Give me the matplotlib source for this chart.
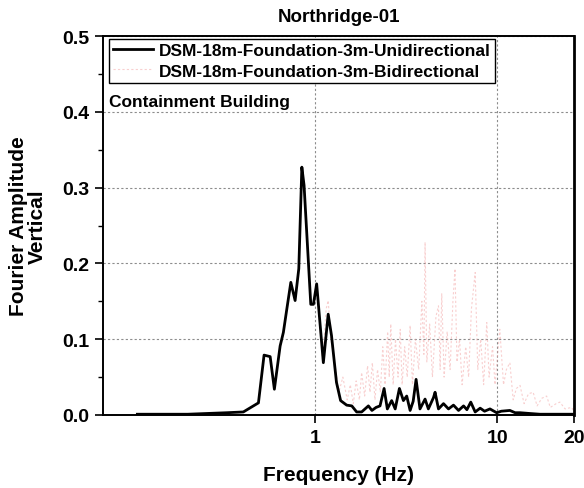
import numpy as np
import matplotlib
matplotlib.use('Agg')
import matplotlib.pyplot as plt
from matplotlib.ticker import FixedLocator, FixedFormatter, MultipleLocator

plt.rcParams['font.family'] = ['Liberation Sans', 'DejaVu Sans']
plt.rcParams['font.weight'] = 'bold'

# Unidirectional response (frequency in Hz, Fourier amplitude)
uni_freq = [0.106, 0.2, 0.328, 0.404, 0.489, 0.525, 0.567, 0.598, 0.643, 0.670, 0.70,
            0.736, 0.777, 0.814, 0.846, 0.870, 0.947, 0.979, 1.02, 1.11, 1.18,
            1.23, 1.31, 1.38, 1.49, 1.59, 1.69, 1.80, 1.96, 2.05, 2.16, 2.27, 2.39,
            2.49, 2.63, 2.75, 2.90, 3.05, 3.18, 3.32, 3.45, 3.58, 3.76, 4.01, 4.18,
            4.46, 4.55, 4.75, 5.06, 5.39, 5.74, 6.12, 6.52, 6.80, 7.14, 7.55, 8.04,
            8.5, 9.1, 9.9, 10.5, 11.7, 12.5, 13.3, 15.0, 17.1, 20.0, 26.3]
uni_amp = [0.001, 0.001, 0.003, 0.004, 0.016, 0.079, 0.077, 0.034, 0.091, 0.109, 0.140,
           0.175, 0.151, 0.193, 0.327, 0.303, 0.146, 0.146, 0.173, 0.069, 0.133,
           0.105, 0.043, 0.019, 0.013, 0.012, 0.004, 0.004, 0.012, 0.006, 0.010, 0.012, 0.035,
           0.008, 0.019, 0.008, 0.035, 0.019, 0.025, 0.006, 0.018, 0.047, 0.008, 0.021, 0.008,
           0.023, 0.030, 0.008, 0.015, 0.008, 0.013, 0.006, 0.012, 0.007, 0.017, 0.004, 0.009,
           0.005, 0.008, 0.003, 0.005, 0.006, 0.003, 0.003, 0.002, 0.001, 0.001, 0.001]

# Bidirectional response
bi_freq = [0.106, 0.2, 0.328, 0.404, 0.489, 0.525, 0.567, 0.598, 0.643, 0.670, 0.70,
           0.736, 0.777, 0.814, 0.846, 0.870, 0.947, 0.979, 1.02, 1.10, 1.15, 1.18,
           1.22, 1.28, 1.35, 1.42, 1.50, 1.56, 1.62, 1.68, 1.75, 1.80, 1.87, 1.94,
           2.0, 2.06, 2.13, 2.2, 2.28, 2.35, 2.42, 2.5, 2.55, 2.6, 2.68, 2.76, 2.85,
           2.93, 3.0, 3.1, 3.2, 3.32, 3.42, 3.55, 3.7, 3.85, 3.95, 4.01, 4.1, 4.25,
           4.4, 4.6, 4.75, 4.85, 4.95, 5.1, 5.3, 5.5, 5.7, 5.85, 6.0, 6.2, 6.4, 6.7,
           6.95, 7.2, 7.55, 7.8, 8.1, 8.4, 8.74, 9.0, 9.4, 9.7, 10.3, 10.8, 11.2,
           11.7, 12.2, 12.7, 13.3, 14.0, 14.8, 15.7, 16.5, 17.5, 18.6, 19.5, 21.0,
           22.0, 23.5, 25.5, 26.3]
bi_amp = [0.001, 0.001, 0.003, 0.004, 0.016, 0.079, 0.077, 0.034, 0.091, 0.109, 0.140,
          0.175, 0.151, 0.193, 0.327, 0.303, 0.146, 0.146, 0.173, 0.07, 0.14, 0.151,
          0.10, 0.07, 0.03, 0.05, 0.02, 0.04, 0.015, 0.045, 0.02, 0.056, 0.025, 0.065,
          0.03, 0.069, 0.02, 0.06, 0.03, 0.09, 0.04, 0.11, 0.05, 0.12, 0.04, 0.10, 0.05,
          0.113, 0.04, 0.09, 0.05, 0.118, 0.04, 0.10, 0.06, 0.15, 0.08, 0.228, 0.07, 0.12,
          0.05, 0.13, 0.144, 0.06, 0.16, 0.05, 0.11, 0.06, 0.15, 0.193, 0.07, 0.10, 0.04, 0.09,
          0.05, 0.14, 0.188, 0.06, 0.10, 0.04, 0.122, 0.05, 0.09, 0.04, 0.113, 0.04, 0.06,
          0.069, 0.02, 0.035, 0.039, 0.015, 0.028, 0.030, 0.012, 0.022, 0.025, 0.010, 0.015,
          0.017, 0.008, 0.010, 0.005]

x_ticks = [1, 10, 26.3]
x_tick_labels = ['1', '10', '20']

fig = plt.figure(figsize=(5.84, 4.89), dpi=100)
ax = fig.add_axes([0.1764, 0.1493, 0.8065, 0.775])

ax.plot(bi_freq, bi_amp, color='#f2a0a0', lw=0.8, alpha=0.5, linestyle=(0, (2, 2)),
        label='DSM-18m-Foundation-3m-Bidirectional', zorder=2)
ax.plot(uni_freq, uni_amp, color='black', lw=2.0,
        label='DSM-18m-Foundation-3m-Unidirectional', zorder=3)

ax.set_xscale('log')
ax.set_xlim(0.0687, 26.3)
ax.set_ylim(0, 0.5)
ax.xaxis.set_major_locator(FixedLocator(x_ticks))
ax.xaxis.set_major_formatter(FixedFormatter(x_tick_labels))
ax.xaxis.set_minor_locator(FixedLocator([]))
ax.yaxis.set_major_locator(MultipleLocator(0.1))
ax.yaxis.set_minor_locator(MultipleLocator(0.05))
ax.yaxis.set_major_formatter(matplotlib.ticker.FormatStrFormatter('%.1f'))

ax.tick_params(axis='both', which='major', direction='out', length=6, width=1.2,
               labelsize=14, pad=4)
ax.tick_params(axis='y', which='minor', direction='out', length=3.5, width=1.0)
for lab in ax.get_xticklabels() + ax.get_yticklabels():
    lab.set_fontweight('bold')

for side in ['left', 'bottom', 'top', 'right']:
    ax.spines[side].set_linewidth(1.4)
ax.spines['right'].set_linewidth(2.0)

ax.grid(True, which='major', color='#8c8c8c', linestyle=(0, (2, 2)), lw=0.8)
ax.set_axisbelow(True)

ax.set_title('Northridge-01', fontsize=13.5, fontweight='bold', pad=11)
ax.set_xlabel('Frequency (Hz)', fontsize=15, fontweight='bold', labelpad=14)
ax.set_ylabel('Fourier Amplitude\nVertical', fontsize=15, fontweight='bold',
              labelpad=11, linespacing=0.95)

handles, labels = ax.get_legend_handles_labels()
leg = ax.legend(handles[::-1], labels[::-1], loc='upper left',
                bbox_to_anchor=(0.013, 0.993), borderaxespad=0, fontsize=12.5,
                frameon=True, fancybox=False, edgecolor='black', framealpha=1,
                handlelength=2.3, handletextpad=0.3, borderpad=0.25,
                labelspacing=0.3, prop={'weight': 'bold', 'size': 12.5})
leg.get_frame().set_linewidth(1.0)

ax.text(0.013, 0.826, 'Containment Building', transform=ax.transAxes,
        fontsize=12.5, fontweight='bold', va='center', ha='left')

fig.savefig('out.png', dpi=100)
